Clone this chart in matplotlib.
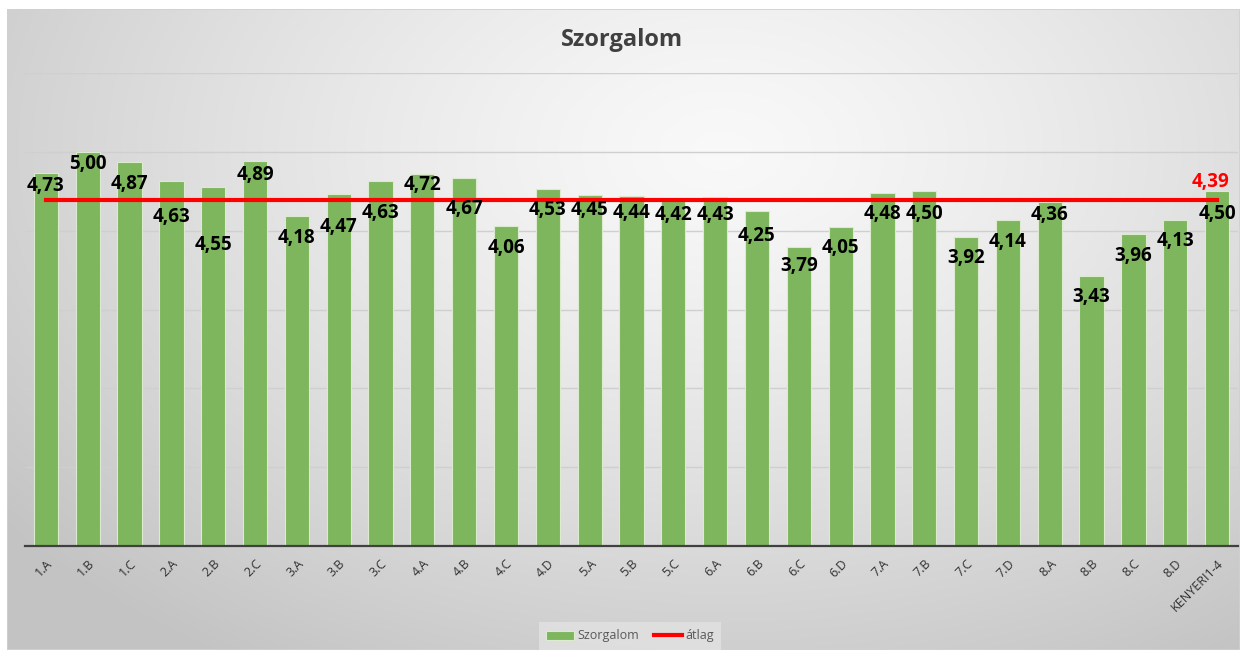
import numpy as np
import matplotlib.pyplot as plt
from matplotlib.patches import Rectangle

# data
categories = ["1.A", "1.B", "1.C", "2.A", "2.B", "2.C", "3.A", "3.B", "3.C",
              "4.A", "4.B", "4.C", "4.D", "5.A", "5.B", "5.C", "6.A", "6.B",
              "6.C", "6.D", "7.A", "7.B", "7.C", "7.D", "8.A", "8.B", "8.C",
              "8.D", "KENYERI1-4"]
szorgalom = [4.73, 5.00, 4.87, 4.63, 4.55, 4.89, 4.18, 4.47, 4.63,
             4.72, 4.67, 4.06, 4.53, 4.45, 4.44, 4.42, 4.43, 4.25,
             3.79, 4.05, 4.48, 4.50, 3.92, 4.14, 4.36, 3.43, 3.96,
             4.13, 4.50]
atlag = 4.39

# how far below the bar top each label sits (pixels), as in the original
label_drop = [13, 12, 22, 36, 58, 14, 22, 33, 32, 11, 31, 22, 21, 15, 17,
              17, 18, 25, 19, 21, 21, 23, 21, 22, 13, 21, 22, 21, 23]

W, H = 1244, 652
fig = plt.figure(figsize=(W / 100, H / 100), dpi=100)
fig.patch.set_facecolor("white")

# gradient background inside the chart frame
fx0, fy0, fx1, fy1 = 7 / W, 2 / H, 1240 / W, 643 / H
bg = fig.add_axes([fx0, fy0, fx1 - fx0, fy1 - fy0])
gx, gy = np.meshgrid(np.linspace(0, 1, 400), np.linspace(0, 1, 300))
r = np.sqrt(((gx - 0.58) / 0.75) ** 2 + ((gy - 0.78) / 0.95) ** 2)
r = np.clip(r, 0, 1)
shade = 0.975 - 0.21 * r ** 1.3
bg.imshow(np.dstack([shade, shade, shade]), extent=[0, 1, 0, 1],
          origin="lower", aspect="auto")
bg.set_xlim(0, 1)
bg.set_ylim(0, 1)
bg.axis("off")
bg.add_patch(Rectangle((0, 0), 1, 1, fill=False, edgecolor="#d0d0d0",
                       lw=1.2, transform=bg.transAxes))

ax = fig.add_axes([25 / W, 1 - 546 / H, (1238 - 25) / W, (546 - 73) / H])
ax.patch.set_alpha(0)

x = np.arange(len(categories))
bars = ax.bar(x, szorgalom, width=0.58, color="#7db65c", edgecolor="#dcebd0",
              linewidth=0.8, zorder=2, label="Szorgalom")
ax.plot([x[0], x[-1]], [atlag, atlag], color="#ff0000", lw=3, zorder=3,
        label="átlag")

for xi, v, d in zip(x, szorgalom, label_drop):
    ax.annotate(f"{v:.2f}".replace(".", ","), (xi, v), xytext=(0, -d),
                textcoords="offset pixels", ha="center", va="center",
                fontsize=13.5, fontweight="bold", color="black",
                family="Open Sans", zorder=4)
ax.annotate(f"{atlag:.2f}".replace(".", ","), (x[-1], atlag), xytext=(-7, 18),
            textcoords="offset pixels", ha="center", va="center",
            fontsize=13.5, fontweight="bold", color="#ff0000",
            family="Open Sans", zorder=4)

ax.set_xlim(-0.5, len(categories) - 0.5)
ax.set_ylim(0, 6)
ax.set_yticks([1, 2, 3, 4, 5, 6])
ax.set_yticklabels([])
ax.tick_params(axis="y", length=0)
ax.grid(axis="y", color="#cfcfcf", lw=1, zorder=0)
for s in ["top", "right", "left"]:
    ax.spines[s].set_visible(False)
ax.spines["bottom"].set_color("#404040")
ax.spines["bottom"].set_linewidth(1.6)
ax.spines["bottom"].set_zorder(5)

ax.set_xticks(x)
ax.set_xticklabels(categories, rotation=45, ha="right", rotation_mode="anchor",
                   fontsize=9, color="#303030", family="Open Sans")
ax.tick_params(axis="x", length=0, pad=8)

fig.text(0.5, 1 - 40 / H, "Szorgalom", ha="center", va="center",
         fontsize=17, fontweight="bold", color="#404040", family="Open Sans")

leg = fig.legend(handles=[bars, ax.lines[0]], labels=["Szorgalom", "átlag"],
                 loc="center", bbox_to_anchor=(630 / W, 1 - 636 / H), ncol=2,
                 frameon=True, handlelength=2.2, columnspacing=1.2,
                 handletextpad=0.3, prop={"family": "Open Sans", "size": 9})
leg.get_frame().set_facecolor("#e2e2e2")
leg.get_frame().set_edgecolor("none")
leg.get_frame().set_boxstyle("square", pad=0.2)
for t in leg.get_texts():
    t.set_color("#595959")

fig.savefig("out.png", dpi=100)
